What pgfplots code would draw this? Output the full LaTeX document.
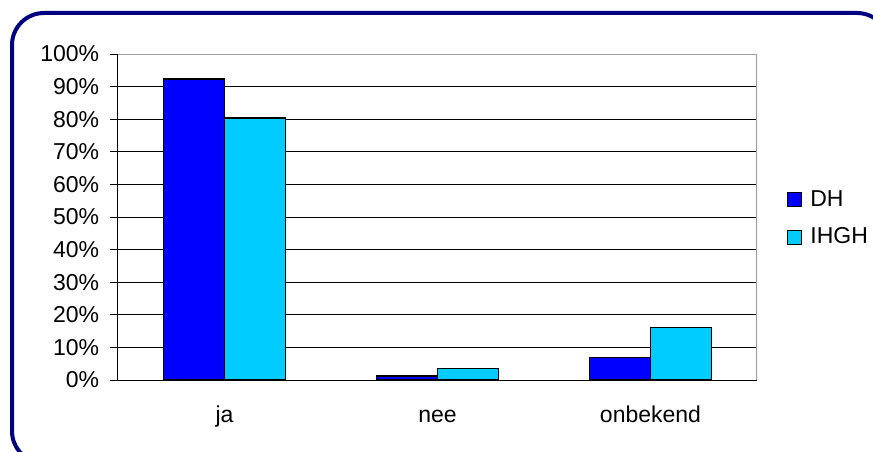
\documentclass[border=0pt]{standalone}
\usepackage{fontspec}
\setmainfont{Liberation Sans}
\usepackage{pgfplots}
\pgfplotsset{compat=1.18}
\definecolor{frameNavy}{HTML}{000080}
\definecolor{dhBlue}{HTML}{0000FF}
\definecolor{ihghCyan}{HTML}{00CCFF}
\definecolor{boxGray}{HTML}{A0A0A0}
\begin{document}
\fontsize{23}{27}\selectfont
\begin{tikzpicture}[x=1pt,y=1pt]
\useasboundingbox (0,0) rectangle (873,451);
\begin{scope}
  \clip (0,0) rectangle (873,451);
  \draw[frameNavy, line width=4pt, rounded corners=32pt] (12,-12) rectangle (889,438);
\end{scope}
\begin{axis}[
  at={(118pt,71pt)}, anchor=south west,
  scale only axis, width=639pt, height=326pt,
  ybar=0pt, bar width=61pt,
  xmin=-0.5, xmax=2.5, ymin=0, ymax=100,
  xtick={0,1,2}, xticklabels={ja,nee,onbekend},
  major x tick style={draw=none},
  extra x ticks={-0.5,0.5,1.5,2.5}, extra x tick labels={},
  extra x tick style={major tick style={draw=black, line width=1pt}, major tick length=8pt},
  ytick={0,10,...,100},
  yticklabels={0\%,10\%,20\%,30\%,40\%,50\%,60\%,70\%,80\%,90\%,100\%},
  tick align=outside, major tick length=8pt,
  tick style={black, line width=1pt},
  ymajorgrids, major grid style={black, line width=0.9pt},
  axis x line*=bottom, axis y line*=left,
  axis line style={black, line width=1pt},
  tick label style={font=\fontsize{23}{27}\selectfont},
  xticklabel style={text height=16.5pt, text depth=5pt, yshift=-10pt},
  yticklabel style={xshift=-3pt},
  legend style={at={(1.047,0.589)}, anchor=north west, draw=none, fill=none,
    font=\fontsize{23}{27}\selectfont, row sep=14pt, inner sep=0pt},
  legend cell align={left},
]
\draw[boxGray, line width=1.5pt] (rel axis cs:0,1) -- (rel axis cs:1,1) -- (rel axis cs:1,0);
\addplot[fill=dhBlue, draw=black, line width=1.3pt,
  legend image code/.code={\draw[fill=dhBlue, draw=black, line width=1pt] (0pt,-7pt) rectangle (14pt,7pt); \path (20pt,0pt);}]
  coordinates {(0,92.3) (1,1.2) (2,7.0)};
\addlegendentry{DH}
\addplot[fill=ihghCyan, draw=black, line width=1.3pt,
  legend image code/.code={\draw[fill=ihghCyan, draw=black, line width=1pt] (0pt,-7pt) rectangle (14pt,7pt); \path (20pt,0pt);}]
  coordinates {(0,80.4) (1,3.6) (2,16.1)};
\addlegendentry{IHGH}
\end{axis}
\end{tikzpicture}
\end{document}
